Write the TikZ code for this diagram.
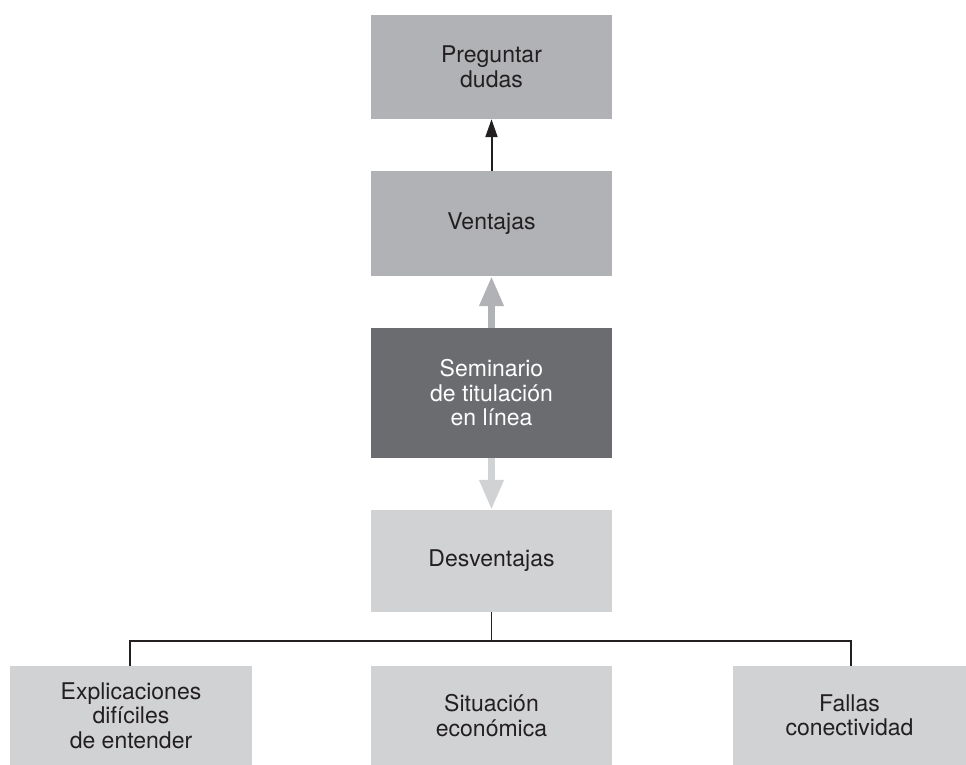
\documentclass[tikz,border=0pt]{standalone}
\usepackage{fontspec}
\setmainfont{TeX Gyre Heros}
\usetikzlibrary{arrows.meta}
\definecolor{gmid}{HTML}{B1B2B5}
\definecolor{gdark}{HTML}{6B6C70}
\definecolor{glight}{HTML}{D1D2D4}
\definecolor{ink}{HTML}{231F20}
\begin{document}
\begin{tikzpicture}[x=1pt,y=-1pt,
  box/.style={minimum width=241pt,inner sep=0pt,align=center,text=ink,
    font=\fontsize{23}{24.5}\selectfont},
  conn/.style={draw=ink,line width=1.6pt},
  fatup/.style={line width=7pt,-{Triangle[width=23pt,length=30pt]}}]
\useasboundingbox (0,0) rectangle (966,765);
\node[box,fill=gmid,minimum height=104pt] (pre) at (491.5,67) {Preguntar\\dudas};
\node[box,fill=gmid,minimum height=105pt] (ven) at (491.5,223.5) {Ventajas};
\node[box,fill=gdark,text=white,minimum height=130pt] (sem) at (491.5,393) {Seminario\\de titulación\\en línea};
\node[box,fill=glight,minimum height=102pt] (des) at (491.5,561) {Desventajas};
\node[box,fill=glight,minimum width=242pt,minimum height=99pt] (exp) at (131,715.5) {Explicaciones\\difíciles\\de entender};
\node[box,fill=glight,minimum height=99pt] (sit) at (491.5,715.5) {Situación\\económica};
\node[box,fill=glight,minimum width=233pt,minimum height=99pt] (fal) at (849.5,715.5) {Fallas\\conectividad};
\draw[ink,line width=2pt,-{Triangle[width=12pt,length=18pt]}] (ven.north) -- (pre.south);
\draw[gmid,fatup] (sem.north) -- (ven.south);
\draw[glight,fatup] (sem.south) -- (des.north);
\coordinate (j) at (491.5,641);
\draw[conn] (des.south) -- (j);
\draw[conn] (exp.north -| 130,0) -- (130,641) -- (851,641) -- (fal.north -| 851,0);
\end{tikzpicture}
\end{document}
